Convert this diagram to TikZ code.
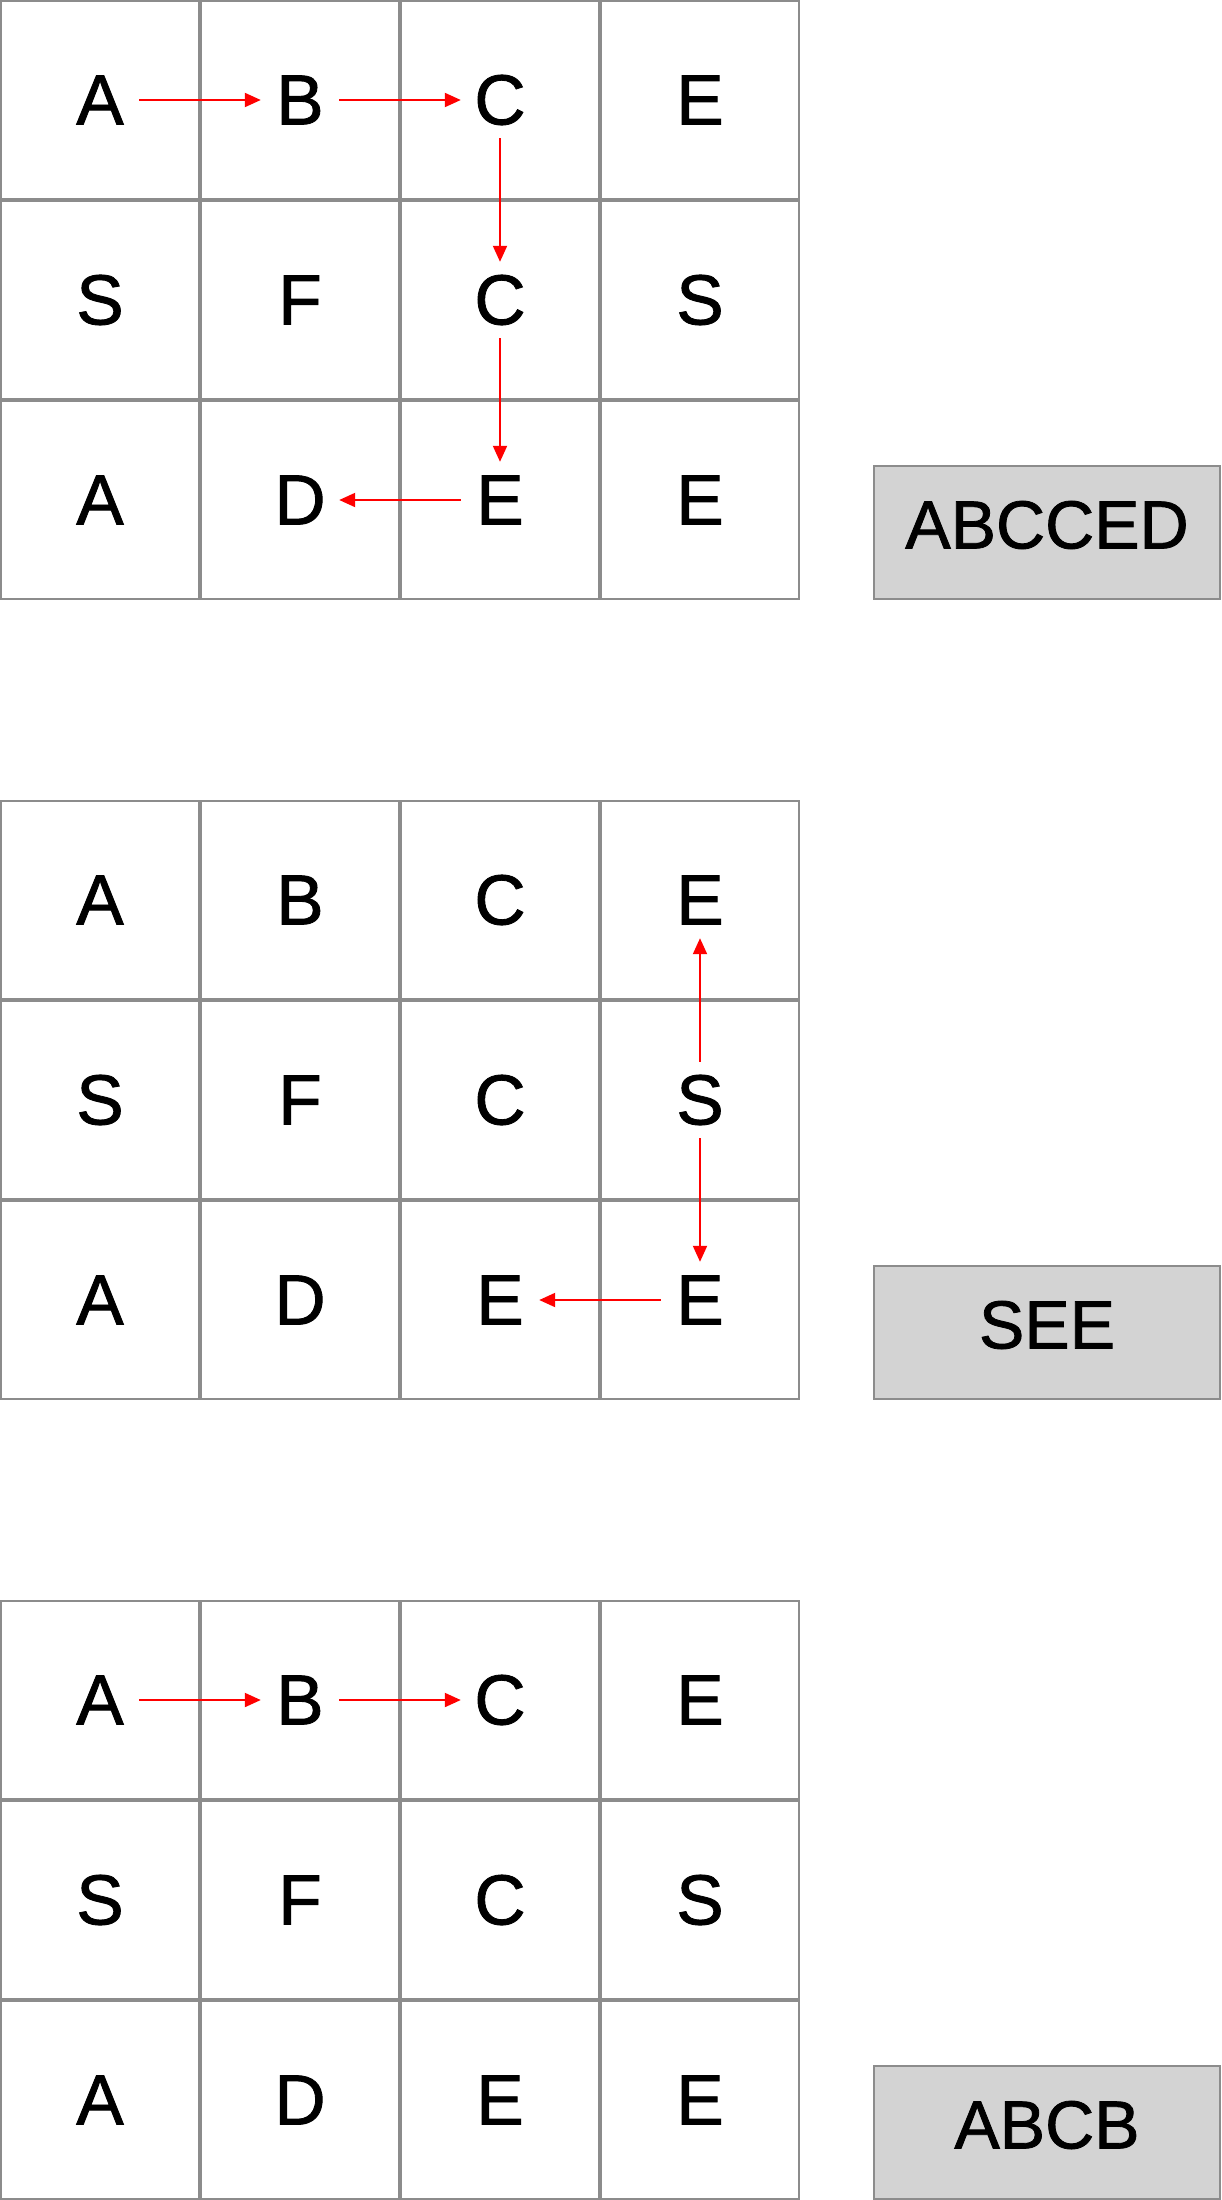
\documentclass[tikz,border=0pt]{standalone}
\usepackage{fontspec}
\setmainfont{Liberation Sans}
\newfontfamily\lettfont[FakeBold=1.2]{Liberation Sans}
\usetikzlibrary{arrows.meta}
\definecolor{gridgray}{HTML}{8C8C8C}
\definecolor{boxgray}{HTML}{D3D3D3}
\begin{document}
\begin{tikzpicture}[x=1pt,y=-1pt,
  cellbox/.style={draw=gridgray,line width=2pt},
  letter/.style={font=\lettfont\fontsize{71}{80}\selectfont, inner sep=0pt, minimum width=78pt, minimum height=76pt},
  redarrow/.style={draw=red, line width=2pt, -{Triangle[length=16pt,width=14pt]}},
  resultbox/.style={draw=gridgray, fill=boxgray, line width=2pt, minimum width=346pt, minimum height=133pt, inner sep=0pt},
  boxtext/.style={inner sep=0pt, font=\lettfont\fontsize{68}{80}\selectfont}]
\useasboundingbox (0,0) rectangle (1222,2200);
\foreach \g/\oy in {1/0,2/800,3/1600}{
  \foreach \ch [count=\i from 0] in {A,B,C,E,S,F,C,S,A,D,E,E}{
    \pgfmathtruncatemacro{\r}{\i/4}
    \pgfmathtruncatemacro{\c}{mod(\i,4)}
    \draw[cellbox] (\c*200+1, \oy+\r*200+1) rectangle ++(198,198);
    \node[letter] (g\g-\r-\c) at (\c*200+100, \oy+\r*200+100) {\ch};
  }
}
% grid 1: ABCCED
\draw[redarrow] (g1-0-0.east) -- (g1-0-1.west);
\draw[redarrow] (g1-0-1.east) -- (g1-0-2.west);
\draw[redarrow] (g1-0-2.south) -- (g1-1-2.north);
\draw[redarrow] (g1-1-2.south) -- (g1-2-2.north);
\draw[redarrow] (g1-2-2.west) -- (g1-2-1.east);
\node[resultbox] (res1) at (1047,532) {};
\node[boxtext] (res1t) at ([yshift=7pt]res1.center) {ABCCED};
% grid 2: SEE
\draw[redarrow] (g2-1-3.north) -- (g2-0-3.south);
\draw[redarrow] (g2-1-3.south) -- (g2-2-3.north);
\draw[redarrow] (g2-2-3.west) -- (g2-2-2.east);
\node[resultbox] (res2) at (1047,1332) {};
\node[boxtext] (res2t) at ([yshift=7pt]res2.center) {SEE};
% grid 3: ABCB
\draw[redarrow] (g3-0-0.east) -- (g3-0-1.west);
\draw[redarrow] (g3-0-1.east) -- (g3-0-2.west);
\node[resultbox] (res3) at (1047,2132) {};
\node[boxtext] (res3t) at ([yshift=7pt]res3.center) {ABCB};
\end{tikzpicture}
\end{document}
